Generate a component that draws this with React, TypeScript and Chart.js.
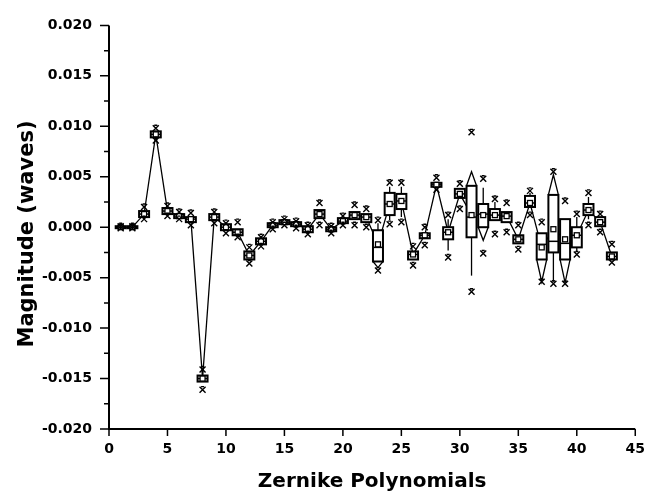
import React, { useEffect, useRef } from 'react';
import { Chart, registerables } from 'chart.js';

Chart.register(...registerables);

// Zernike term index
const terms = [
  1, 2, 3, 4, 5, 6, 7, 8, 9, 10, 11, 12, 13, 14, 15, 16, 17, 18, 19, 20, 21, 22,
  23, 24, 25, 26, 27, 28, 29, 30, 31, 32, 33, 34, 35, 36, 37, 38, 39, 40, 41, 42, 43,
];

// mean value (small square, joined by the line)
const means = [
  0.0, 0.0, 0.0013, 0.0092, 0.0016, 0.0011, 0.0008, -0.015, 0.001, 0.0, -0.0005,
  -0.0028, -0.0014, 0.0002, 0.0005, 0.0003, -0.0002, 0.0013, -0.0002, 0.0006, 0.0012,
  0.001, -0.0017, 0.0023, 0.0026, -0.0027, -0.0008, 0.0042, -0.0005, 0.0033, 0.0012,
  0.0012, 0.0012, 0.0011, -0.0012, 0.0024, -0.002, -0.0002, -0.0012, -0.0008, 0.0017,
  0.0005, -0.0029,
];

// median (inner line of the box)
const medians = [
  0.0, 0.0, 0.0013, 0.0092, 0.0016, 0.0011, 0.0008, -0.015, 0.001, 0.0, -0.0005,
  -0.0028, -0.0014, 0.0002, 0.0005, 0.0003, -0.0002, 0.0013, -0.0002, 0.0006, 0.0012,
  0.001, -0.002, 0.0023, 0.0026, -0.0027, -0.0008, 0.0042, -0.0005, 0.0033, 0.001,
  0.0013, 0.0012, 0.0011, -0.0012, 0.0024, -0.0017, -0.0014, -0.0016, -0.0008, 0.0017,
  0.0005, -0.0029,
];

// box bottom (25%)
const q1 = [
  -0.0001, -0.0001, 0.001, 0.0089, 0.0013, 0.0009, 0.0005, -0.0153, 0.0007, -0.0003,
  -0.0008, -0.0032, -0.0017, 0.0, 0.0003, 0.0001, -0.0005, 0.0009, -0.0004, 0.0004,
  0.0008, 0.0005, -0.0034, 0.0012, 0.0018, -0.0032, -0.0011, 0.004, -0.0012, 0.0029,
  -0.001, 0.0, 0.0007, 0.0005, -0.0016, 0.002, -0.0032, -0.0025, -0.0032, -0.002,
  0.0012, 0.0001, -0.0032,
];

// box top (75%)
const q3 = [
  0.0001, 0.0001, 0.0016, 0.0095, 0.0019, 0.0013, 0.001, -0.0147, 0.0013, 0.0003,
  -0.0002, -0.0024, -0.0011, 0.0004, 0.0007, 0.0005, 0.0001, 0.0017, 0.0, 0.0009,
  0.0015, 0.0013, -0.0003, 0.0034, 0.0033, -0.0024, -0.0006, 0.0044, 0.0, 0.0038,
  0.0041, 0.0023, 0.0018, 0.0015, -0.0008, 0.0031, -0.0006, 0.0032, 0.0008, 0.0,
  0.0023, 0.001, -0.0025,
];

// minimum (lower x marker)
const mins = [
  -0.0001, -0.0001, 0.0008, 0.0086, 0.0011, 0.0008, 0.0002, -0.0161, 0.0004, -0.0006,
  -0.001, -0.0036, -0.0019, -0.0002, 0.0002, -0.0001, -0.0007, 0.0002, -0.0006, 0.0002,
  0.0002, 0.0, -0.0043, 0.0003, 0.0005, -0.0038, -0.0018, 0.0037, -0.003, 0.0018,
  -0.0064, -0.0026, -0.0007, -0.0005, -0.0022, 0.0012, -0.0054, -0.0056, -0.0056,
  -0.0027, 0.0002, -0.0005, -0.0035,
];

// maximum (upper x marker)
const maxs = [
  0.0001, 0.0001, 0.002, 0.0098, 0.0021, 0.0015, 0.0014, -0.0141, 0.0015, 0.0004,
  0.0005, -0.002, -0.001, 0.0005, 0.0008, 0.0006, 0.0002, 0.0024, 0.0001, 0.0011,
  0.0022, 0.0018, 0.0007, 0.0044, 0.0044, -0.0019, 0.0, 0.0049, 0.0012, 0.0043,
  0.0094, 0.0048, 0.0028, 0.0024, 0.0002, 0.0036, 0.0005, 0.0055, 0.0026, 0.0013,
  0.0034, 0.0013, -0.0017,
];

// whisker line ends (null = none drawn)
const whiskerLow: (number | null)[] = [
  null, null, null, null, null, null, null, null, null, null, null, null, null, null,
  null, null, null, null, null, null, null, null, null, 0.0007, 0.001, null, null, null,
  -0.0023, null, -0.0048, null, null, null, null, null, null, -0.0054, null, -0.0024,
  0.0008, null, null,
];
const whiskerHigh: (number | null)[] = [
  null, null, null, null, null, null, null, null, null, null, null, null, null, null,
  null, null, null, null, null, null, null, null, 0.0004, 0.004, 0.004, null, null, null,
  0.0008, null, null, 0.0039, 0.0025, null, null, 0.0034, null, null, null, 0.001,
  0.003, null, null,
];

// pointed (triangular) whisker ends (null = none)
const tipLow: (number | null)[] = [
  null, null, null, null, null, null, null, null, null, null, null, null, null, null,
  null, null, null, null, null, null, null, null, -0.004, null, null, null, null, null,
  null, null, null, -0.0013, null, null, null, null, -0.0054, null, -0.0055, null,
  null, null, null,
];
const tipHigh: (number | null)[] = [
  null, null, null, null, null, null, null, null, null, null, null, null, null, null,
  null, null, null, null, null, null, null, null, null, null, null, null, null, null,
  null, null, 0.0055, null, null, null, null, null, null, 0.0052, null, null,
  null, null, null,
];

const xTickValues = [0, 5, 10, 15, 20, 25, 30, 35, 40, 45];
const yMajorTicks = [-0.02, -0.015, -0.01, -0.005, 0, 0.005, 0.01, 0.015, 0.02];
const yMinorTicks = [-0.0175, -0.0125, -0.0075, -0.0025, 0.0025, 0.0075, 0.0125, 0.0175];

const xTitle = 'Zernike Polynomials';
const yTitle = 'Magnitude (waves)';

const FONT = "'DejaVu Sans', sans-serif";

const boxPlugin = {
  id: 'boxPlugin',
  afterDatasetsDraw(chart: any) {
    const { ctx, scales } = chart;
    const xs = scales.x;
    const ys = scales.y;
    const hw = 5;
    ctx.save();
    ctx.strokeStyle = '#000';
    terms.forEach((t, i) => {
      const x = xs.getPixelForValue(t);
      const yTop = ys.getPixelForValue(q3[i]);
      const yBot = ys.getPixelForValue(q1[i]);
      ctx.lineWidth = 1.3;
      // whiskers
      ctx.beginPath();
      const wh = whiskerHigh[i];
      const wl = whiskerLow[i];
      if (wh !== null) {
        ctx.moveTo(x, yTop);
        ctx.lineTo(x, ys.getPixelForValue(wh));
      }
      if (wl !== null) {
        ctx.moveTo(x, yBot);
        ctx.lineTo(x, ys.getPixelForValue(wl));
      }
      ctx.stroke();
      // triangular tips
      const th = tipHigh[i];
      const tl = tipLow[i];
      ctx.beginPath();
      if (th !== null) {
        const ty = ys.getPixelForValue(th);
        ctx.moveTo(x - hw, yTop);
        ctx.lineTo(x, ty);
        ctx.lineTo(x + hw, yTop);
      }
      if (tl !== null) {
        const ty = ys.getPixelForValue(tl);
        ctx.moveTo(x - hw, yBot);
        ctx.lineTo(x, ty);
        ctx.lineTo(x + hw, yBot);
      }
      ctx.stroke();
      // box
      ctx.fillStyle = '#fff';
      ctx.fillRect(x - hw, yTop, hw * 2, yBot - yTop);
      ctx.lineWidth = 2;
      ctx.strokeRect(x - hw, yTop, hw * 2, yBot - yTop);
      // median
      const ym = ys.getPixelForValue(medians[i]);
      ctx.lineWidth = 1.5;
      ctx.beginPath();
      ctx.moveTo(x - hw, ym);
      ctx.lineTo(x + hw, ym);
      ctx.stroke();
      // mean square
      const yMean = ys.getPixelForValue(means[i]);
      ctx.lineWidth = 1.3;
      ctx.fillStyle = '#fff';
      ctx.fillRect(x - 2.5, yMean - 2.5, 5, 5);
      ctx.strokeRect(x - 2.5, yMean - 2.5, 5, 5);
      // min / max markers
      ctx.lineWidth = 1.4;
      [mins[i], maxs[i]].forEach((v) => {
        const y = ys.getPixelForValue(v);
        const s = 3;
        ctx.beginPath();
        ctx.moveTo(x - s, y - s);
        ctx.lineTo(x + s, y + s);
        ctx.moveTo(x + s, y - s);
        ctx.lineTo(x - s, y + s);
        ctx.moveTo(x - 1.5, y - s);
        ctx.lineTo(x + 1.5, y - s);
        ctx.stroke();
      });
    });
    ctx.restore();
  },
  afterDraw(chart: any) {
    const { ctx, scales, chartArea } = chart;
    const xs = scales.x;
    const ys = scales.y;
    ctx.save();
    ctx.strokeStyle = '#000';
    ctx.lineWidth = 2;
    // axes
    ctx.beginPath();
    ctx.moveTo(chartArea.left, chartArea.top);
    ctx.lineTo(chartArea.left, chartArea.bottom);
    ctx.lineTo(chartArea.right, chartArea.bottom);
    ctx.stroke();
    // ticks
    ctx.lineWidth = 1.5;
    ctx.beginPath();
    yMajorTicks.forEach((v) => {
      const y = ys.getPixelForValue(v);
      ctx.moveTo(chartArea.left - 9, y);
      ctx.lineTo(chartArea.left, y);
    });
    yMinorTicks.forEach((v) => {
      const y = ys.getPixelForValue(v);
      ctx.moveTo(chartArea.left - 5, y);
      ctx.lineTo(chartArea.left, y);
    });
    xTickValues.forEach((v) => {
      const x = xs.getPixelForValue(v);
      ctx.moveTo(x, chartArea.bottom);
      ctx.lineTo(x, chartArea.bottom + 7);
    });
    ctx.stroke();
    // titles
    ctx.fillStyle = '#000';
    ctx.textAlign = 'center';
    ctx.textBaseline = 'middle';
    ctx.font = `bold 20px ${FONT}`;
    ctx.fillText(xTitle, (chartArea.left + chartArea.right) / 2, 482);
    ctx.translate(28, 234);
    ctx.rotate(-Math.PI / 2);
    ctx.font = `bold 21px ${FONT}`;
    ctx.fillText(yTitle, 0, 0);
    ctx.restore();
  },
};

export default function App() {
  const ref = useRef<HTMLCanvasElement | null>(null);

  useEffect(() => {
    if (!ref.current) return;
    const chart = new Chart(ref.current, {
      type: 'line',
      data: {
        datasets: [
          {
            data: terms.map((t, i) => ({ x: t, y: means[i] })),
            borderColor: '#000',
            borderWidth: 1.3,
            pointRadius: 0,
            tension: 0,
            fill: false,
          },
        ],
      },
      options: {
        responsive: false,
        animation: false,
        devicePixelRatio: 1,
        layout: { padding: { top: 15, right: 19, left: 0, bottom: 0 } },
        plugins: { legend: { display: false }, tooltip: { enabled: false } },
        scales: {
          x: {
            type: 'linear',
            min: 0,
            max: 45,
            afterFit: (s: any) => {
              s.height = 68;
            },
            afterBuildTicks: (s: any) => {
              s.ticks = xTickValues.map((v) => ({ value: v }));
            },
            grid: { display: false, drawTicks: false },
            border: { display: false },
            ticks: {
              color: '#000',
              padding: 12,
              maxRotation: 0,
              font: { family: FONT, size: 14, weight: 'bold' },
              callback: (v: any) => String(v),
            },
          },
          y: {
            type: 'linear',
            min: -0.02,
            max: 0.02,
            afterFit: (s: any) => {
              s.width = 109;
            },
            afterBuildTicks: (s: any) => {
              s.ticks = yMajorTicks.map((v) => ({ value: v }));
            },
            grid: { display: false, drawTicks: false },
            border: { display: false },
            ticks: {
              color: '#000',
              padding: 17,
              font: { family: FONT, size: 14, weight: 'bold' },
              callback: (v: any) => Number(v).toFixed(3),
            },
          },
        },
      },
      plugins: [boxPlugin],
    });
    return () => chart.destroy();
  }, []);

  return (
    <div style={{ position: 'absolute', left: 0, top: 0, width: 657, height: 497, background: '#fff' }}>
      <canvas ref={ref} width={657} height={497} style={{ width: 657, height: 497, display: 'block' }} />
    </div>
  );
}
